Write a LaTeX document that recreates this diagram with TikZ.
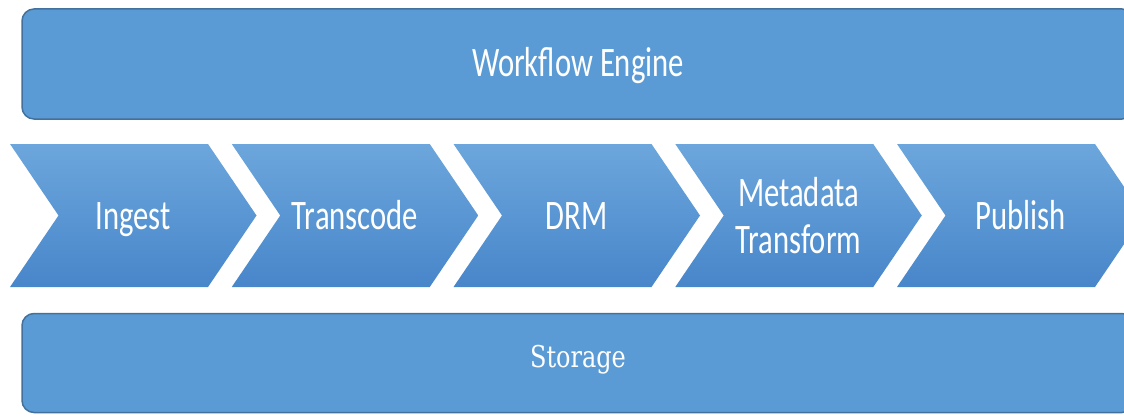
\documentclass[tikz,border=0pt]{standalone}
\usepackage{fontspec}
\usetikzlibrary{positioning,shapes.symbols}
\newfontfamily\stepfont[FakeStretch=0.73]{Carlito}
\newfontfamily\storefont[FakeStretch=0.8]{DejaVu Serif}
\definecolor{barFill}{HTML}{5B9BD5}
\definecolor{barEdge}{HTML}{41719C}
\definecolor{chevTop}{HTML}{6CA6DC}
\definecolor{chevBottom}{HTML}{4886CA}

\begin{document}
\begin{tikzpicture}[
      x=1pt, y=1pt,
      bar/.style={rectangle, rounded corners=12pt, draw=barEdge, line width=1.5pt,
                  fill=barFill, minimum width=1112pt, text=white},
      stage/.style={signal, signal to=east, signal from=west,
                    signal pointer angle=111.7, minimum width=246.5pt,
                    minimum height=143pt, inner sep=0pt,
                    top color=chevTop, bottom color=chevBottom, text=white,
                    align=center, font=\stepfont\fontsize{42}{47}\selectfont},
      oneline/.style={text height=27pt, text depth=0pt}
    ]
    \useasboundingbox (0,0) rectangle (1124,416);
    \clip (0,0) rectangle (1124,416);

    \node[bar, minimum height=110pt, font=\stepfont\fontsize{42}{47}\selectfont,
          text height=26pt, text depth=0pt] (engine) at (578,352) {Workflow Engine};

    \node[stage, oneline] (ingest) at (133.25,200.5) {Ingest};
    \node[stage, oneline] (transcode) at (355,200.5) {Transcode};
    \node[stage, oneline] (drm) at (576.75,200.5) {DRM};
    \node[stage] (meta) at (798.5,200.5) {Metadata\\Transform};
    \node[stage, oneline] (publish) at (1020.25,200.5) {Publish};

    \node[bar, minimum height=99pt, font=\storefont\fontsize{30}{36}\selectfont,
          text height=22pt, text depth=14pt] (storage) at (578,53) {Storage};
  \end{tikzpicture}
\end{document}
